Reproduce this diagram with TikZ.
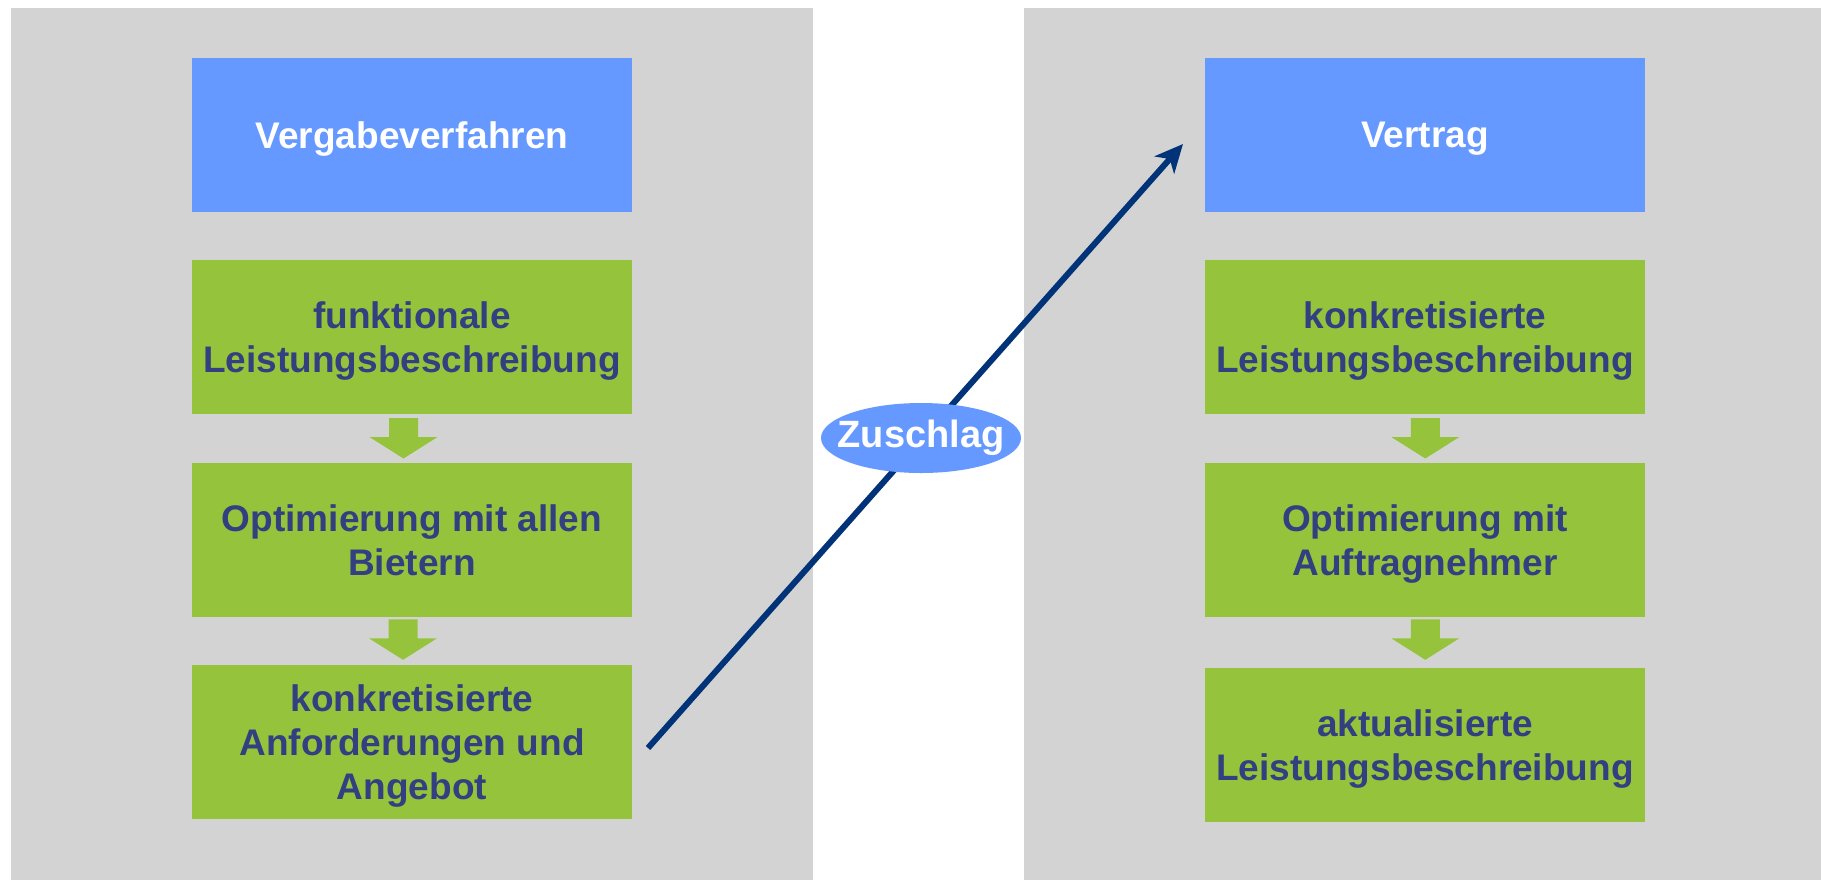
\documentclass[tikz,border=0pt]{standalone}
\usepackage{fontspec}
\setmainfont{Liberation Sans}
\usetikzlibrary{shapes.geometric,arrows.meta}
\definecolor{panelgray}{RGB}{211,211,211}
\definecolor{boxblue}{RGB}{102,153,255}
\definecolor{boxgreen}{RGB}{149,196,60}
\definecolor{textnavy}{RGB}{51,63,128}
\definecolor{arrownavy}{RGB}{0,51,120}
\tikzset{
  panel/.style={fill=panelgray, draw=none},
  boxbase/.style={rectangle, draw=none, minimum width=220pt, minimum height=77pt,
    inner sep=0pt, align=center, text depth=0pt,
    font=\bfseries\fontsize{18.5}{22.2}\selectfont},
  bluebox/.style={boxbase, fill=boxblue, text=white},
  greenbox/.style={boxbase, fill=boxgreen, text=textnavy},
  garrowfill/.style={fill=boxgreen, draw=none},
  zlabel/.style={ellipse, fill=boxblue, draw=none, text=white, minimum width=100pt,
    minimum height=35pt, inner sep=0pt, font=\bfseries\fontsize{19}{22}\selectfont},
  bigarrow/.style={draw=arrownavy, line width=3pt,
    -{Stealth[length=14pt, width=13pt, inset=4pt]}}
}
\newcommand\garrow[2]{%
  \fill[garrowfill] (#1-14.5,#2) -- (#1+14.5,#2) -- (#1+14.5,#2+19) -- (#1+34,#2+19)
    -- (#1,#2+40.5) -- (#1-34,#2+19) -- (#1-14.5,#2+19) -- cycle;}
\begin{document}
\begin{tikzpicture}[x=0.5pt, y=-0.5pt]
\useasboundingbox (0,0) rectangle (1821,880);
\fill[white] (0,0) rectangle (1821,880);
% panels
\fill[panel] (11,8) rectangle (813,880);
\fill[panel] (1024,8) rectangle (1821,880);
% left column
\node[bluebox]  (lb)  at (412,135) {Vergabeverfahren};
\node[greenbox] (lg1) at (412,337) {funktionale\\Leistungsbeschreibung};
\node[greenbox] (lg2) at (412,540) {Optimierung mit allen\\Bietern};
\node[greenbox] (lg3) at (412,742) {konkretisierte\\Anforderungen und\\Angebot};
% right column
\node[bluebox]  (rb)  at (1425,135) {Vertrag};
\node[greenbox] (rg1) at (1425,337) {konkretisierte\\Leistungsbeschreibung};
\node[greenbox] (rg2) at (1425,540) {Optimierung mit\\Auftragnehmer};
\node[greenbox] (rg3) at (1425,745) {aktualisierte\\Leistungsbeschreibung};
% block arrows
\garrow{403.5}{418}
\garrow{403}{619.3}
\garrow{1425.3}{418}
\garrow{1425.3}{619.3}
% Zuschlag arrow
\coordinate (zstart) at (648,748);
\coordinate (zend) at (1183,144);
\draw[bigarrow] (zstart) -- (zend);
\node[zlabel] (zu) at (921,438) {\makebox[0pt]{Zuschlag}};
\end{tikzpicture}
\end{document}
